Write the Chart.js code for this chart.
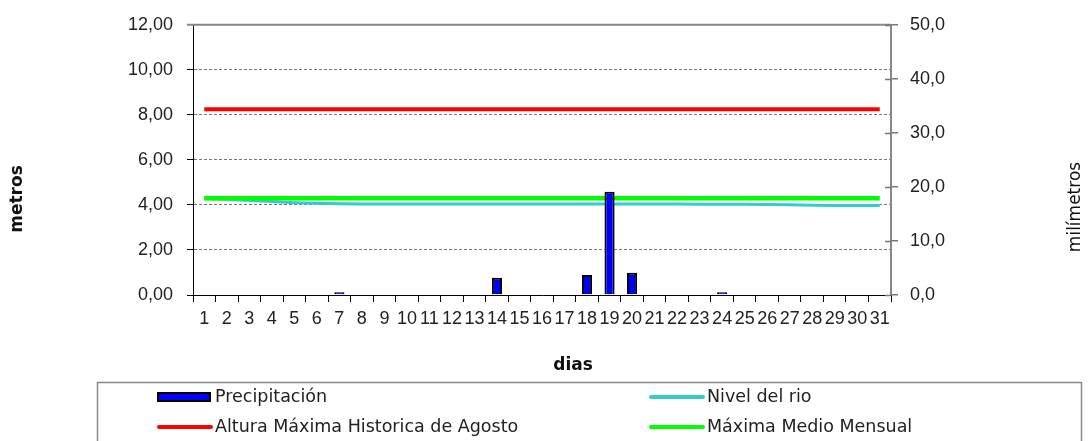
<!DOCTYPE html>
<html><head><meta charset="utf-8">
<script src="https://cdn.jsdelivr.net/npm/chart.js@4/dist/chart.umd.min.js"></script>
<style>html,body{margin:0;padding:0;background:#fff}#wrap{width:1088px;height:441px}</style>
</head><body><div id="wrap"><canvas id="c" width="1088" height="441"></canvas></div>
<script>
const days = ['1','2','3','4','5','6','7','8','9','10','11','12','13','14','15','16','17','18','19','20','21','22','23','24','25','26','27','28','29','30','31'];
const precipitacion = [0,0,0,0,0,0,0.5,0,0,0,0,0,0,3.2,0,0,0,3.7,19.1,4.1,0,0,0,0.5,0,0,0,0,0,0,0];
const nivelRio = [4.28,4.25,4.2,4.15,4.1,4.07,4.05,4.04,4.04,4.04,4.04,4.04,4.04,4.04,4.04,4.04,4.04,4.04,4.04,4.04,4.04,4.04,4.03,4.03,4.03,4.02,4.01,3.99,3.98,3.98,3.98];
const alturaMaxHistorica = [8.25,8.25,8.25,8.25,8.25,8.25,8.25,8.25,8.25,8.25,8.25,8.25,8.25,8.25,8.25,8.25,8.25,8.25,8.25,8.25,8.25,8.25,8.25,8.25,8.25,8.25,8.25,8.25,8.25,8.25,8.25];
const maximaMedioMensual = [4.3,4.3,4.3,4.3,4.3,4.3,4.3,4.3,4.3,4.3,4.3,4.3,4.3,4.3,4.3,4.3,4.3,4.3,4.3,4.3,4.3,4.3,4.3,4.3,4.3,4.3,4.3,4.3,4.3,4.3,4.3];
const labels = {
  precip: 'Precipitación',
  rio: 'Nivel del rio',
  hist: 'Altura Máxima Historica de Agosto',
  medio: 'Máxima Medio Mensual'
};
const axisTitles = { left: 'metros', right: 'milímetros', x: 'dias' };

Chart.defaults.font.family = "'Liberation Sans', Arial, sans-serif";
Chart.defaults.color = '#222';

const extras = {
  id: 'extras',
  afterDraw(chart) {
    const ctx = chart.ctx, a = chart.chartArea;
    ctx.save();
    // top border of plot
    ctx.strokeStyle = '#888'; ctx.lineWidth = 2;
    ctx.beginPath(); ctx.moveTo(a.left - 6, a.top); ctx.lineTo(a.right, a.top); ctx.stroke();
    // inner part of right-axis tick marks
    const r = chart.scales.y1;
    ctx.strokeStyle = '#777'; ctx.lineWidth = 1.5;
    r.ticks.forEach((t) => {
      const py = Math.round(r.getPixelForValue(t.value)) + 0.5;
      ctx.beginPath(); ctx.moveTo(a.right - 6, py); ctx.lineTo(a.right, py); ctx.stroke();
    });
    // axis titles
    ctx.fillStyle = '#111';
    ctx.textAlign = 'center'; ctx.textBaseline = 'middle';
    ctx.font = "bold 17px 'DejaVu Sans', sans-serif";
    ctx.save(); ctx.translate(18, 199); ctx.rotate(-Math.PI/2); ctx.fillText(axisTitles.left, 0, 0); ctx.restore();
    ctx.font = "17px 'DejaVu Sans', sans-serif";
    ctx.save(); ctx.translate(1076, 207); ctx.rotate(-Math.PI/2); ctx.fillText(axisTitles.right, 0, 0); ctx.restore();
    ctx.font = "bold 17px 'DejaVu Sans', sans-serif";
    ctx.fillText(axisTitles.x, 573, 366);
    // legend box
    ctx.fillStyle = '#fff';
    ctx.strokeStyle = '#888'; ctx.lineWidth = 1.5;
    ctx.beginPath(); ctx.rect(97.5, 382.5, 984, 80); ctx.fill(); ctx.stroke();
    const ds = chart.data.datasets;
    const slots = [[158, 397], [650, 397], [158, 427], [650, 427]];
    ctx.font = "17.5px 'DejaVu Sans', sans-serif";
    ctx.textAlign = 'left'; ctx.textBaseline = 'middle';
    ds.forEach((d) => {
      const [sx, sy] = slots[d.legendSlot];
      if (d.type === 'bar') {
        ctx.fillStyle = d.backgroundColor; ctx.strokeStyle = d.borderColor; ctx.lineWidth = 2;
        ctx.fillRect(sx, sy - 4, 52, 8); ctx.strokeRect(sx, sy - 4, 52, 8);
      } else {
        ctx.strokeStyle = d.borderColor; ctx.lineWidth = 4; ctx.lineCap = 'round';
        ctx.beginPath(); ctx.moveTo(sx + 1, sy); ctx.lineTo(sx + 53, sy); ctx.stroke();
      }
      ctx.fillStyle = '#222';
      ctx.fillText(d.label, sx + 57, sy);
    });
    ctx.restore();
  }
};

new Chart(document.getElementById('c'), {
  data: {
    labels: days,
    datasets: [
      { type: 'bar', label: labels.precip, data: precipitacion, yAxisID: 'y1', backgroundColor: '#0000FF', borderColor: '#000', borderWidth: 2, barPercentage: 0.45, categoryPercentage: 1, order: 0, legendSlot: 0 },
      { type: 'line', label: labels.rio, data: nivelRio, yAxisID: 'y', borderColor: '#33CCCC', borderWidth: 3, pointRadius: 0, tension: 0, order: 3, legendSlot: 1 },
      { type: 'line', label: labels.hist, data: alturaMaxHistorica, yAxisID: 'y', borderColor: '#FF0000', borderWidth: 4, pointRadius: 0, tension: 0, order: 1, legendSlot: 2 },
      { type: 'line', label: labels.medio, data: maximaMedioMensual, yAxisID: 'y', borderColor: '#00FF00', borderWidth: 4.5, pointRadius: 0, tension: 0, order: 2, legendSlot: 3 }
    ]
  },
  options: {
    responsive: false,
    animation: false,
    devicePixelRatio: 1,
    layout: { padding: { top: 22, left: 0, right: 0, bottom: 0 } },
    plugins: { legend: { display: false }, tooltip: { enabled: false } },
    scales: {
      x: {
        type: 'category', offset: true,
        grid: { offset: true, drawOnChartArea: false, drawTicks: true, tickLength: 7, tickColor: '#000' },
        border: { color: '#000', width: 1 },
        ticks: { font: { size: 18 }, color: '#222', maxRotation: 0, minRotation: 0, autoSkip: false, padding: 6 },
        afterFit: (s) => { s.height = 146; }
      },
      y: {
        position: 'left', min: 0, max: 12,
        ticks: { stepSize: 2, font: { size: 18 }, color: '#222', padding: 14, callback: (v) => v.toFixed(2).replace('.', ',') },
        grid: { color: (c) => (c.tick && (c.tick.value === 0 || c.tick.value === 12)) ? 'rgba(0,0,0,0)' : '#777', lineWidth: 1, tickLength: 6, tickColor: '#000' },
        border: { display: true, color: '#000', width: 1, dash: [3, 2] },
        afterFit: (s) => { s.width = 193; }
      },
      y1: {
        position: 'right', min: 0, max: 50,
        ticks: { stepSize: 10, font: { size: 18 }, color: '#222', padding: 12, callback: (v) => v.toFixed(1).replace('.', ',') },
        grid: { drawOnChartArea: false, tickLength: 7, tickColor: '#777', lineWidth: 1.5 },
        border: { display: true, color: '#888', width: 2 },
        afterFit: (s) => { s.width = 197; }
      }
    }
  },
  plugins: [extras]
});
</script>
</body></html>
